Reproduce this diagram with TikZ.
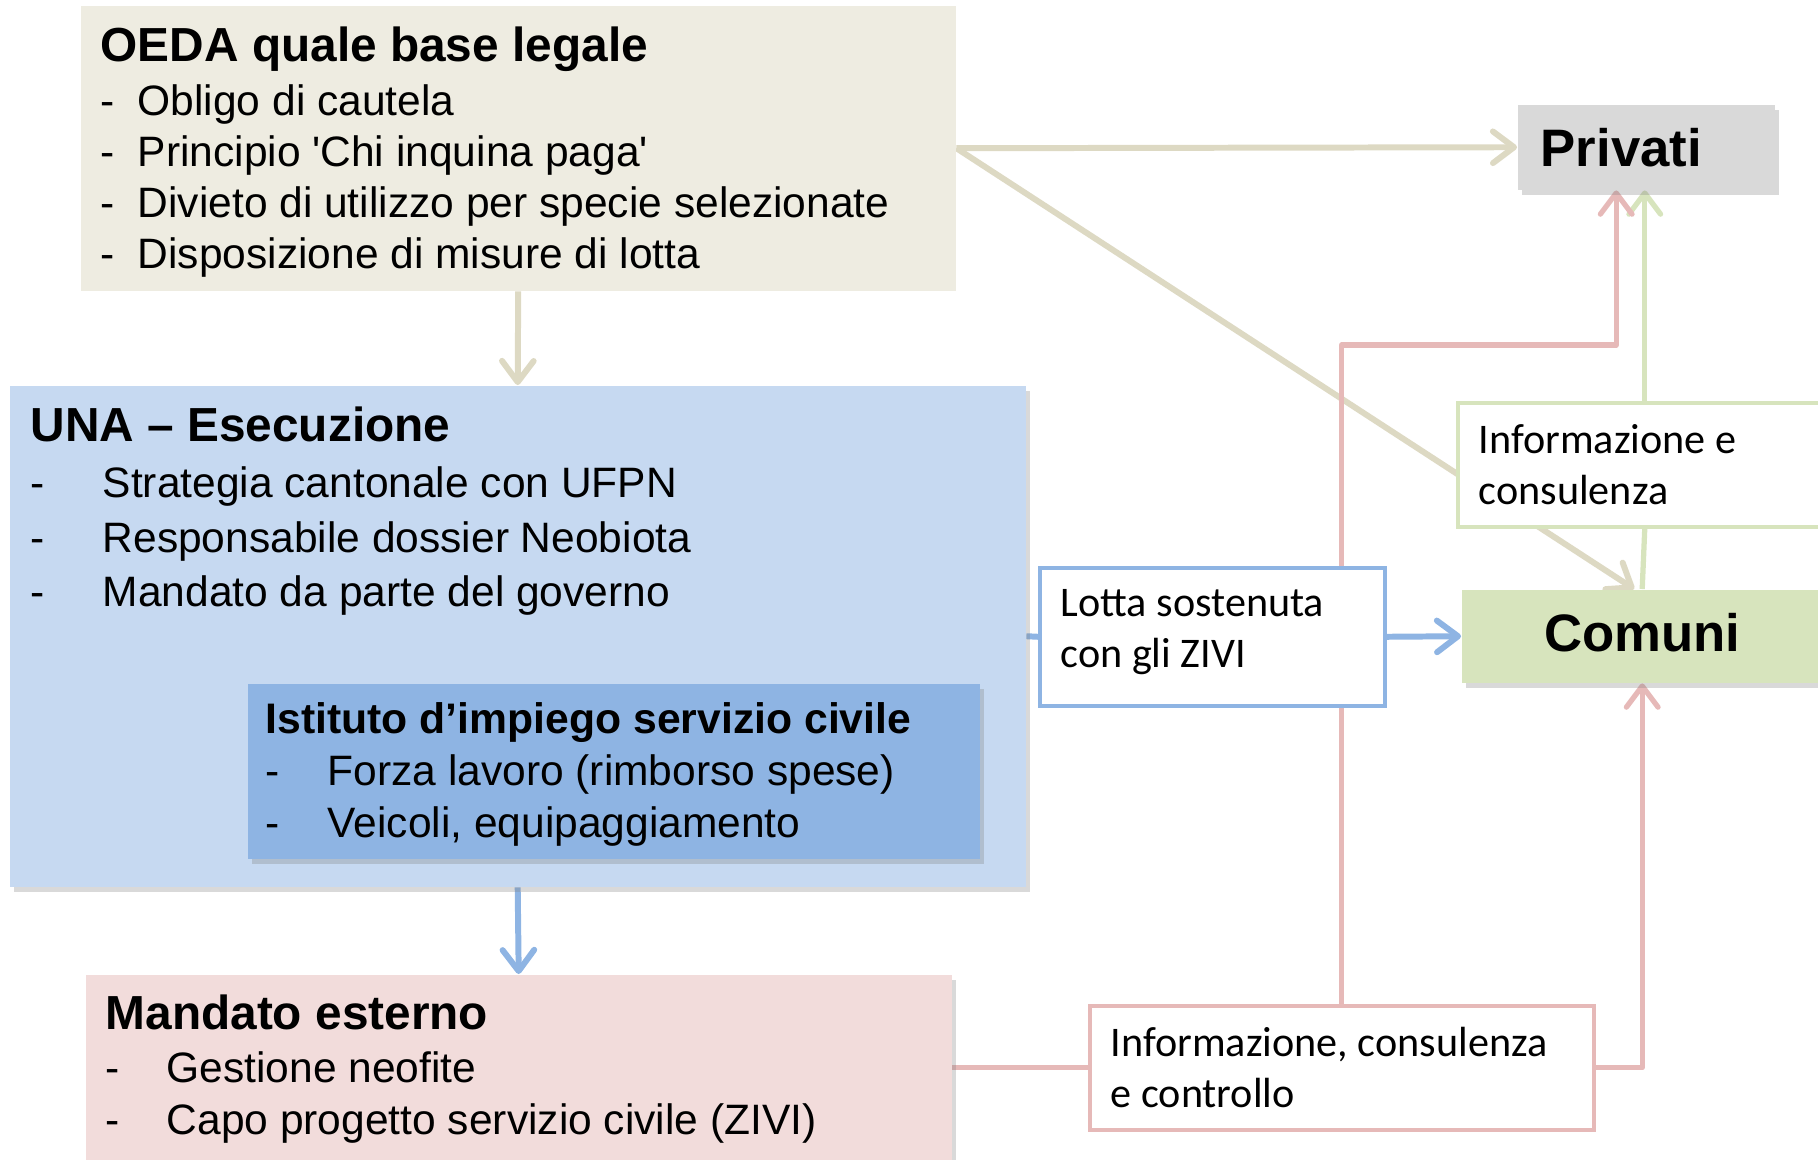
\documentclass[tikz,border=0pt]{standalone}
\usepackage{fontspec}
\setmainfont{Liberation Sans}
\newfontfamily\calibri{Carlito}
\usetikzlibrary{arrows.meta}
\usetikzlibrary{positioning}
\usetikzlibrary{shadows}
\usetikzlibrary{backgrounds}

\definecolor{tanfill}{HTML}{EEECE1}
\definecolor{tanline}{HTML}{DDD9C3}
\definecolor{greyfill}{HTML}{D9D9D9}
\definecolor{bluefill}{HTML}{C6D9F1}
\definecolor{bluedark}{HTML}{8EB4E3}
\definecolor{rosefill}{HTML}{F2DCDB}
\definecolor{roseline}{HTML}{E6B9B8}
\definecolor{greenfill}{HTML}{D7E4BD}

\tikzset{
  box/.style={rectangle, anchor=north west, inner sep=0pt},
  shade box/.style={drop shadow={shadow xshift=0.04cm, shadow yshift=-0.05cm, opacity=0.3}},
  textblock/.style={anchor=north west, inner sep=0pt, align=flush left},
  labelbox/.style={rectangle, anchor=north west, fill=white, line width=1pt, align=flush left,
    inner ysep=2pt, inner xsep=0.21cm, font=\calibri\fontsize{12}{14.5}\selectfont},
  conn/.style={line width=1.7pt, line join=round},
  thinconn/.style={line width=1.5pt, line join=round},
  tip/.style={-{Straight Barb[length=6pt,width=9pt,line cap=round,line join=round]}},
}
\newcommand{\boxtitle}[2]{{\fontsize{#1}{16}\selectfont\bfseries #2}}
\newcommand{\dashitem}[2]{\makebox[#1][l]{-}#2}

\begin{document}
\begin{tikzpicture}[x=1cm, y=-1cm]
\useasboundingbox (0,0) rectangle (18.18,11.59);
\clip (0,0) rectangle (18.18,11.59);

% main boxes
\node [box, fill=tanfill, minimum width=8.75cm, minimum height=2.85cm] (oeda) at (0.80,0.05) {};
\node [textblock, font=\fontsize{12.1}{14.5}\selectfont] (oedatxt) at (1.00,0.26)
  {\boxtitle{13.6}{OEDA quale base legale}\\[0.9pt]
   \dashitem{0.37cm}{Obligo di cautela}\\
   \dashitem{0.37cm}{Principio \textquotesingle Chi inquina paga\textquotesingle}\\
   \dashitem{0.37cm}{Divieto di utilizzo per specie selezionate}\\
   \dashitem{0.37cm}{Disposizione di misure di lotta}};

\node [box, fill=greyfill, shade box, minimum height=0.85cm, text width=2.11cm, inner xsep=0.23cm,
  align=flush left, font=\fontsize{15}{18}\selectfont\bfseries] (privati) at (15.17,1.04) {Privati};

\node [box, fill=bluefill, shade box, minimum width=10.16cm, minimum height=5.01cm] (una) at (0.09,3.85) {};
\node [textblock, font=\fontsize{12.1}{15.5}\selectfont] (unatxt) at (0.30,4.06)
  {\boxtitle{13.6}{UNA – Esecuzione}\\[0.5pt]
   \dashitem{0.72cm}{Strategia cantonale con UFPN}\\
   \dashitem{0.72cm}{Responsabile dossier Neobiota}\\
   \dashitem{0.72cm}{Mandato da parte del governo}};

\node [box, fill=bluedark, shade box, minimum width=7.32cm, minimum height=1.75cm] (istituto) at (2.47,6.83) {};
\node [textblock, font=\fontsize{12.1}{14.8}\selectfont] (istitutotxt) at (2.65,7.02)
  {\boxtitle{12.15}{Istituto d’impiego servizio civile}\\
   \dashitem{0.62cm}{Forza lavoro (rimborso spese)}\\
   \dashitem{0.62cm}{Veicoli, equipaggiamento}};

\node [box, fill=rosefill, shade box, minimum width=8.66cm, minimum height=2.0cm] (mandato) at (0.85,9.74) {};
\node [textblock, font=\fontsize{12.1}{14.8}\selectfont] (mandatotxt) at (1.05,9.94)
  {\boxtitle{13.6}{Mandato esterno}\\[0.3pt]
   \dashitem{0.61cm}{Gestione neofite}\\
   \dashitem{0.61cm}{Capo progetto servizio civile (ZIVI)}};

\node [box, fill=greenfill, shade box, minimum width=3.61cm, minimum height=0.93cm, text depth=2pt,
  font=\fontsize{15}{18}\selectfont\bfseries] (comuni) at (14.61,5.89) {Comuni};

% label boxes
\node [labelbox, draw=bluedark, text width=3.03cm, minimum height=1.38cm] (lotta) at (10.38,5.66)
  {Lotta sostenuta\\con gli ZIVI\rule[-0.17cm]{0pt}{0pt}};
\node [labelbox, draw=greenfill, text width=3.32cm, minimum height=1.24cm] (infocons) at (14.56,4.01)
  {Informazione e\\consulenza};
\node [labelbox, draw=roseline, text width=4.62cm, minimum height=1.24cm] (infoctrl) at (10.88,10.04)
  {Informazione, consulenza\\e controllo};

% connectors
\begin{scope}[on background layer]
\draw [conn, tip, draw=tanline] (oeda.east) -- (privati.west);
\draw [conn, tip, draw=tanline] (oeda.east) -- ([xshift=-0.08cm]comuni.north);
\draw [conn, tip, draw=tanline] (oeda.south) -- (una.north);
\draw [conn, tip, draw=bluedark] (una.south) -- (mandato.north);
\draw [conn, draw=bluedark] (una.east) -- (lotta.west);
\draw [conn, tip, draw=bluedark] (lotta.east) -- (comuni.west);
\draw [thinconn, draw=greenfill] (comuni.north) -- (infocons.south);
\draw [thinconn, tip, draw=greenfill] (infocons.north) -- (infocons.north |- privati.south);
\draw [thinconn, draw=roseline] (infoctrl.west -| mandato.east) -- (infoctrl.west);
\draw [thinconn, tip, draw=roseline] (infoctrl.north) -- ++(0,-6.59) -| ([xshift=-0.30cm]privati.south);
\draw [thinconn, tip, draw=roseline] (infoctrl.east) -| (comuni.south);
\end{scope}
\end{tikzpicture}
\end{document}
